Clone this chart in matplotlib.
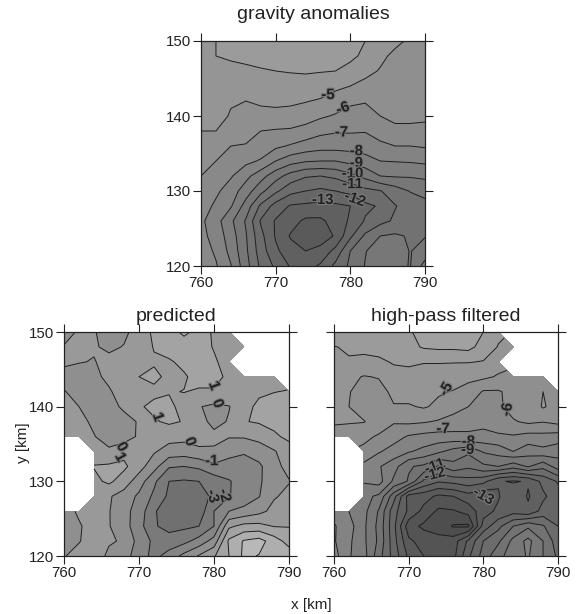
import numpy as np
import matplotlib
matplotlib.use("Agg")
import matplotlib.pyplot as plt
import matplotlib.patheffects as pe

plt.rcParams['font.family'] = ['Liberation Sans', 'DejaVu Sans']

nan = np.nan
x_km = list(range(760, 791, 2))
y_km = list(range(150, 119, -2))
ticks = [760, 770, 780, 790]
y_ticks = [120, 130, 140, 150]

# rows from y=150 down to y=120, columns x=760..790
gravity = [
    [-4.3, -4.0, -3.6, -3.4, -3.2, -3.1, -3.0, -3.0, -3.0, -3.2, -3.5, -4.0, -4.4, -4.85, -5.1, -5.3],
    [-4.4, -4.0, -3.9, -3.75, -3.6, -3.45, -3.35, -3.3, -3.35, -3.5, -3.8, -4.2, -4.85, -5.15, -5.3, -5.4],
    [-4.5, -4.2, -4.2, -4.2, -4.1, -4.0, -3.95, -3.9, -3.95, -4.0, -4.3, -4.8, -5.05, -5.3, -5.5, -5.6],
    [-4.6, -4.4, -4.6, -4.5, -4.4, -4.35, -4.35, -4.4, -4.5, -4.8, -5.0, -5.2, -5.4, -5.5, -5.6, -5.7],
    [-4.7, -4.6, -4.95, -5.0, -4.9, -4.85, -4.85, -4.95, -5.1, -5.4, -5.9, -5.95, -5.7, -5.7, -5.75, -5.8],
    [-4.85, -4.8, -5.05, -5.1, -5.2, -5.2, -5.3, -5.5, -5.85, -6.1, -6.2, -6.3, -6.0, -5.9, -5.85, -5.9],
    [-5.0, -5.0, -5.4, -5.7, -6.0, -6.1, -6.15, -6.4, -6.75, -6.9, -6.9, -6.95, -6.6, -6.1, -6.15, -6.15],
    [-5.3, -5.5, -6.0, -6.05, -6.4, -6.8, -7.1, -7.4, -7.6, -7.6, -7.6, -7.5, -7.2, -7.0, -7.0, -6.9],
    [-5.6, -6.0, -6.4, -6.75, -7.1, -8.0, -8.6, -8.9, -9.0, -9.0, -8.7, -8.4, -8.0, -7.95, -7.9, -7.8],
    [-6.0, -6.4, -6.9, -7.7, -8.6, -9.6, -10.4, -10.9, -11.0, -10.8, -10.3, -9.7, -9.0, -8.9, -8.9, -8.8],
    [-6.3, -6.8, -7.5, -8.5, -9.7, -10.8, -11.7, -12.0, -12.2, -12.0, -11.7, -11.3, -11.05, -10.5, -9.95, -9.7],
    [-6.5, -7.2, -7.9, -9.4, -11.2, -12.4, -13.1, -13.2, -13.3, -13.2, -13.0, -12.2, -11.9, -11.05, -10.6, -10.3],
    [-6.8, -7.6, -8.8, -10.1, -12.1, -13.1, -13.6, -14.2, -14.2, -13.6, -12.85, -11.9, -11.3, -10.85, -10.6, -10.5],
    [-6.7, -7.4, -8.5, -9.9, -11.7, -13.1, -14.1, -14.6, -14.5, -13.9, -12.2, -10.8, -10.0, -9.85, -10.1, -10.05],
    [-6.5, -7.15, -8.3, -9.8, -11.5, -12.8, -13.6, -14.0, -13.7, -12.7, -11.0, -10.05, -9.5, -9.4, -10.05, -9.6],
    [-6.2, -6.9, -7.95, -9.6, -11.2, -12.2, -13.1, -13.4, -12.85, -11.75, -10.8, -9.95, -9.3, -9.7, -10.05, -8.6],
]

predicted = [
    [-0.3, 0.1, 0.05, -0.3, -0.2, 0.4, 1.2, 1.6, 2.2, 1.7, 0.8, 0.5, nan, nan, nan, nan],
    [0.05, 0.15, 0.1, -0.2, 0.05, 0.5, 1.05, 1.35, 1.5, 1.3, 0.95, 0.6, 0.5, nan, nan, nan],
    [0.15, 0.05, -0.05, 0.3, 0.5, 0.7, 0.9, 0.9, 1.2, 1.3, 1.1, 0.7, nan, nan, nan, nan],
    [-0.3, -0.5, -0.2, 0.2, 0.5, 1.0, 1.2, 0.8, 0.9, 1.3, 1.3, 0.8, 0.6, 0.6, 0.6, nan],
    [0.05, -0.3, -0.4, -0.1, 0.4, 0.7, 0.8, 0.95, 1.02, 0.9, 0.9, 0.85, 0.8, 0.85, 0.98, 1.05],
    [0.3, 0.0, -0.4, -0.4, 0.2, 0.9, 1.2, 1.2, 0.7, 0.05, -0.2, -0.05, 0.7, 1.2, 1.3, 1.4],
    [0.6, 0.3, -0.2, -0.7, -0.4, 0.1, 0.9, 1.15, 0.95, 0.5, -0.4, 0.1, 0.95, 1.1, 1.25, 1.3],
    [0.9, 0.6, 0.05, -0.5, -0.5, 0.15, 0.4, 0.35, 0.3, 0.4, 0.35, 0.05, 0.1, 0.3, 0.85, 1.2],
    [nan, nan, 0.45, 0.2, 0.7, 0.95, 0.1, -0.4, -0.5, -0.2, -0.2, -0.5, -0.9, -0.5, -0.1, 0.6],
    [nan, nan, 1.05, 1.15, 1.2, 0.4, -0.6, -1.9, -2.0, -1.8, -1.2, -1.6, -1.4, -1.2, -0.3, 0.3],
    [nan, nan, 0.75, 1.2, 0.5, -0.5, -1.8, -3.0, -3.1, -3.0, -2.6, -2.05, -1.7, -1.2, -0.2, -0.05],
    [nan, nan, 0.3, 0.1, -0.4, -1.2, -2.2, -3.2, -4.0, -3.4, -2.8, -2.05, -1.6, -1.05, -0.1, 0.25],
    [-0.4, 0.15, 0.4, 0.05, -0.7, -1.4, -2.9, -3.5, -3.95, -3.6, -2.0, -1.0, -0.7, -0.3, 0.3, 0.65],
    [-0.5, -0.1, 0.4, 0.05, -0.6, -1.6, -2.9, -3.3, -3.2, -3.0, -2.0, 0.8, 1.3, 1.3, 0.95, 0.95],
    [-0.3, -0.05, 0.4, 0.1, -0.1, -1.4, -2.2, -2.6, -2.3, -1.6, -0.6, 2.2, 3.1, 3.4, 2.5, 1.6],
    [-0.05, 0.3, 0.5, -0.2, -0.6, -1.5, -2.3, -1.6, -0.7, 0.1, 0.9, 2.0, 3.2, 2.95, 2.3, 2.6],
]

highpass = [
    [-3.0, -3.5, -3.5, -3.4, -3.3, -3.1, -2.7, -2.5, -2.4, -2.6, -3.0, -3.8, nan, nan, nan, nan],
    [-4.05, -3.85, -3.7, -3.6, -3.5, -3.3, -2.9, -2.8, -2.8, -2.7, -3.4, -4.05, -4.3, nan, nan, nan],
    [-4.4, -4.1, -4.3, -4.2, -3.9, -3.85, -3.95, -3.95, -3.95, -3.95, -4.05, -4.6, nan, nan, nan, nan],
    [-4.6, -4.8, -5.05, -4.95, -4.4, -4.3, -4.4, -4.4, -4.6, -4.8, -4.8, -5.1, -5.3, -5.3, -5.3, nan],
    [-4.7, -4.95, -5.4, -5.3, -4.8, -4.6, -4.6, -4.9, -5.05, -5.3, -6.1, -6.1, -5.7, -5.1, -5.0, -5.3],
    [-4.85, -5.0, -5.5, -5.3, -5.05, -5.1, -4.9, -5.2, -5.6, -6.0, -6.5, -6.2, -5.6, -5.7, -4.9, -5.4],
    [-4.85, -4.9, -4.95, -5.5, -5.9, -5.8, -5.9, -6.1, -6.4, -6.7, -6.7, -6.3, -6.1, -5.8, -5.95, -5.7],
    [-5.5, -5.6, -5.8, -6.1, -6.6, -7.1, -7.3, -7.4, -7.3, -7.15, -7.3, -7.2, -7.1, -7.35, -7.3, -7.45],
    [nan, nan, -6.2, -6.9, -7.4, -7.9, -8.3, -8.8, -9.4, -9.8, -8.9, -8.6, -8.0, -8.6, -8.3, -8.6],
    [nan, nan, -7.3, -7.9, -8.6, -9.9, -10.2, -11.1, -10.3, -10.8, -10.2, -10.0, -10.6, -9.9, -10.7, -9.5],
    [nan, nan, -7.9, -7.6, -9.2, -10.1, -12.2, -12.9, -12.7, -12.4, -12.7, -13.9, -14.1, -13.9, -12.7, -11.9],
    [nan, nan, -8.7, -9.2, -11.6, -14.4, -14.6, -15.2, -15.0, -14.4, -14.9, -14.1, -13.2, -14.1, -13.2, -12.4],
    [-7.4, -8.0, -8.7, -10.1, -12.6, -14.2, -15.3, -16.2, -16.1, -15.6, -14.4, -13.8, -13.4, -13.8, -12.6, -12.9],
    [-6.9, -7.6, -8.8, -10.3, -12.7, -15.6, -16.2, -16.4, -17.1, -17.2, -13.6, -12.3, -11.0, -10.2, -10.9, -12.0],
    [-6.9, -7.8, -8.8, -10.2, -12.6, -14.8, -15.4, -15.7, -15.5, -13.8, -12.0, -11.2, -9.7, -8.7, -10.0, -11.6],
    [-6.6, -7.9, -8.6, -10.6, -12.4, -14.2, -15.0, -15.4, -15.3, -13.2, -11.6, -10.3, -9.5, -8.9, -10.0, -11.2],
]

gravity_labels = [("-5", 777.0, 142.8, 0), ("-6", 779.0, 141.0, 20), ("-7", 778.8, 137.8, 0),
                  ("-8", 780.8, 135.3, 0), ("-9", 780.8, 133.7, 0), ("-10", 780.3, 132.3, 0),
                  ("-11", 780.3, 130.9, 0), ("-12", 780.6, 128.9, -20), ("-13", 776.3, 128.8, 0)]
predicted_labels = [("1", 780.0, 142.8, -70), ("0", 780.5, 140.4, -70), ("1", 772.5, 138.6, -70),
                    ("0", 767.7, 134.6, -60), ("1", 767.5, 133.2, -60), ("0", 776.8, 135.3, -70),
                    ("-1", 779.7, 132.7, 0), ("-3", 779.8, 128.0, -75), ("-2", 781.4, 128.1, -75)]
highpass_labels = [("-5", 775.0, 142.3, 60), ("-6", 783.2, 139.6, 80), ("-7", 774.6, 137.0, 0),
                   ("-8", 778.0, 135.3, 0), ("-9", 777.9, 134.2, 0), ("-11", 773.5, 132.0, 20),
                   ("-12", 773.5, 130.9, 15), ("-13", 780.0, 128.0, -30)]

titles = ["gravity anomalies", "predicted", "high-pass filtered"]
grav_levels = np.arange(-20, 0, 1)
pred_levels = np.arange(-6, 6, 1)
high_levels = np.arange(-20, 0, 1)


def panel(box, data, levels, vmin, vmax, title, labels, ylab, title_pad):
    # box is left, top, right, bottom in pixels of the 579x614 picture
    ax = fig.add_axes([box[0] / 579, 1 - box[3] / 614, (box[2] - box[0]) / 579, (box[3] - box[1]) / 614])
    z = np.array(data)
    ax.contourf(x_km, y_km, z, levels=levels, cmap='gray', vmin=vmin, vmax=vmax, corner_mask=True)
    ax.contour(x_km, y_km, z, levels=levels, colors='#1e1e1e', linewidths=0.7, linestyles='solid',
               corner_mask=True)
    # grey halo so the line breaks around the label
    for txt, tx, ty, rot in labels:
        ax.text(tx, ty, txt, fontsize=10.8, fontweight='bold', color='#222222', rotation=rot,
                ha='center', va='center',
                path_effects=[pe.withStroke(linewidth=1.6, foreground='#7a7a7a')])
    ax.set_xlim(760, 790)
    ax.set_ylim(120, 150)
    ax.set_xticks(ticks)
    ax.set_yticks(y_ticks)
    ax.tick_params(direction='out', length=5.5, width=0.8, top=True, right=True, labelsize=10.8,
                   labelleft=ylab, pad=1.5, colors='#222222')
    for s in ax.spines.values():
        s.set_linewidth(0.9)
        s.set_color('#222222')
    ax.set_title(title, fontsize=14, pad=title_pad, color='#222222')
    return ax


fig = plt.figure(figsize=(5.79, 6.14), dpi=100)
panel((201, 41, 425, 266), gravity, grav_levels, -29.7, 13.4, titles[0], gravity_labels, True, 16)
panel((64, 332, 289, 556), predicted, pred_levels, -14.5, 10.5, titles[1], predicted_labels, True, 8)
panel((334, 332, 558, 556), highpass, high_levels, -29.7, 13.4, titles[2], highpass_labels, False, 8)

fig.text(311 / 579, 1 - 605 / 614, "x [km]", fontsize=11, ha='center', va='center', color='#222222')
fig.text(23 / 579, 1 - 443 / 614, "y [km]", fontsize=11, rotation=90, ha='center', va='center', color='#222222')

plt.savefig("out.png", dpi=100)
